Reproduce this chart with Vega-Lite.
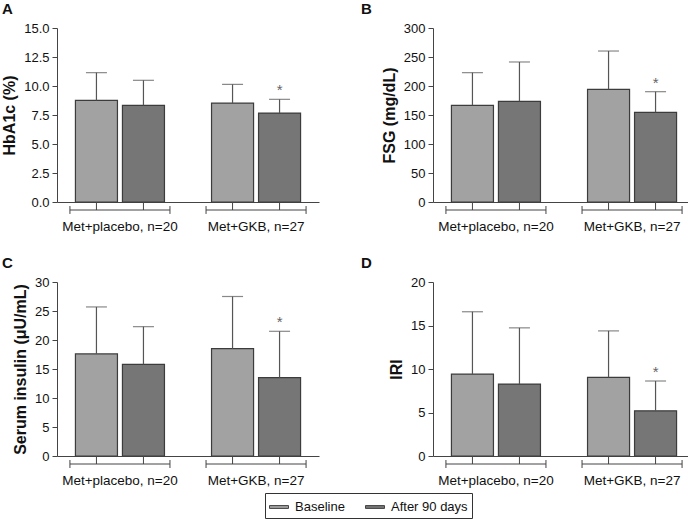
{
  "$schema": "https://vega.github.io/schema/vega-lite/v6.json",
  "background": "white",
  "padding": {"left": 1, "top": 2, "right": 0, "bottom": 0},
  "config": {
    "font": "Liberation Sans",
    "view": {"stroke": null},
    "axis": {"grid": false, "domainColor": "#444", "tickColor": "#444", "labelColor": "#111", "labelFontSize": 13, "titleColor": "#111", "labelOverlap": false},
    "axisY": {"tickSize": 5, "labelPadding": 3, "titleFontSize": 16, "titleFontWeight": "bold", "titlePadding": 6, "labelOverlap": false},
    "axisX": {"ticks": false, "labelPadding": 17, "labelAngle": 0, "title": null, "labelFontSize": 13.5},
    "title": {"fontSize": 15, "fontWeight": "bold", "color": "#111", "anchor": "start", "frame": "group", "baseline": "bottom", "offset": 5}
  },
  "data": {"values": [
    {"panel": "A", "group": "Met+placebo, n=20", "series": "Baseline", "mean": 8.76, "hi": 11.15, "star": ""},
    {"panel": "A", "group": "Met+placebo, n=20", "series": "After 90 days", "mean": 8.33, "hi": 10.49, "star": ""},
    {"panel": "A", "group": "Met+GKB, n=27", "series": "Baseline", "mean": 8.53, "hi": 10.14, "star": ""},
    {"panel": "A", "group": "Met+GKB, n=27", "series": "After 90 days", "mean": 7.67, "hi": 8.85, "star": "*"},
    {"panel": "B", "group": "Met+placebo, n=20", "series": "Baseline", "mean": 166.7, "hi": 223, "star": ""},
    {"panel": "B", "group": "Met+placebo, n=20", "series": "After 90 days", "mean": 173.6, "hi": 241.4, "star": ""},
    {"panel": "B", "group": "Met+GKB, n=27", "series": "Baseline", "mean": 194.3, "hi": 260.3, "star": ""},
    {"panel": "B", "group": "Met+GKB, n=27", "series": "After 90 days", "mean": 154.6, "hi": 190.2, "star": "*"},
    {"panel": "C", "group": "Met+placebo, n=20", "series": "Baseline", "mean": 17.6, "hi": 25.7, "star": ""},
    {"panel": "C", "group": "Met+placebo, n=20", "series": "After 90 days", "mean": 15.8, "hi": 22.3, "star": ""},
    {"panel": "C", "group": "Met+GKB, n=27", "series": "Baseline", "mean": 18.5, "hi": 27.5, "star": ""},
    {"panel": "C", "group": "Met+GKB, n=27", "series": "After 90 days", "mean": 13.5, "hi": 21.5, "star": "*"},
    {"panel": "D", "group": "Met+placebo, n=20", "series": "Baseline", "mean": 9.42, "hi": 16.58, "star": ""},
    {"panel": "D", "group": "Met+placebo, n=20", "series": "After 90 days", "mean": 8.27, "hi": 14.73, "star": ""},
    {"panel": "D", "group": "Met+GKB, n=27", "series": "Baseline", "mean": 9.04, "hi": 14.38, "star": ""},
    {"panel": "D", "group": "Met+GKB, n=27", "series": "After 90 days", "mean": 5.19, "hi": 8.62, "star": "*"}
  ]},
  "columns": 2,
  "spacing": {"row": 23, "column": 42},
  "concat": [
    {
      "width": 262, "height": 174,
      "title": {"text": "A", "dx": -55},
      "transform": [{"filter": "datum.panel === 'A'"}],
      "layer": [
        {"mark": {"type": "bar", "stroke": "#3c3c3c", "strokeWidth": 1.2},
         "encoding": {
           "x": {"field": "group", "type": "nominal", "scale": {"domain": ["Met+placebo, n=20", "Met+GKB, n=27"], "paddingInner": 0.265, "paddingOuter": 0.095}},
           "xOffset": {"field": "series", "type": "nominal", "scale": {"domain": ["Baseline", "After 90 days"], "paddingInner": 0.106, "paddingOuter": 0.117}},
           "y": {"field": "mean", "type": "quantitative", "scale": {"domain": [0, 15], "nice": false}, "axis": {"title": "HbA1c (%)", "values": [0, 2.5, 5, 7.5, 10, 12.5, 15], "format": ".1f", "labelOverlap": false, "tickCount": 7}},
           "fill": {"field": "series", "type": "nominal", "scale": {"domain": ["Baseline", "After 90 days"], "range": ["#a2a2a2", "#767676"]},
             "legend": {"title": null, "orient": "none", "legendX": 208, "legendY": 465, "direction": "horizontal", "strokeColor": "#333", "padding": 4, "symbolType": "M-1,-0.15H1V0.15H-1Z", "symbolSize": 361, "symbolStrokeColor": "#444", "symbolStrokeWidth": 1, "labelFontSize": 13, "labelOffset": 6, "columnPadding": 18, "labelColor": "#111"}}
         }},
        {"mark": {"type": "rule", "color": "#555", "strokeWidth": 1.2},
         "encoding": {"x": {"field": "group", "type": "nominal"}, "xOffset": {"field": "series", "type": "nominal"}, "y": {"field": "mean", "type": "quantitative"}, "y2": {"field": "hi"}}},
        {"mark": {"type": "tick", "color": "#555", "size": 21, "thickness": 1.2},
         "encoding": {"x": {"field": "group", "type": "nominal"}, "xOffset": {"field": "series", "type": "nominal"}, "y": {"field": "hi", "type": "quantitative"}}},
        {"mark": {"type": "text", "color": "#666", "dy": -9, "fontSize": 15},
         "encoding": {"x": {"field": "group", "type": "nominal"}, "xOffset": {"field": "series", "type": "nominal"}, "y": {"field": "hi", "type": "quantitative"}, "text": {"field": "star"}}},
        {"transform": [{"filter": "datum.series === 'Baseline'"}],
         "mark": {"type": "rule", "color": "#444", "strokeWidth": 1},
         "encoding": {"x": {"field": "group", "type": "nominal", "bandPosition": 0}, "x2": {"field": "group", "bandPosition": 1}, "y": {"datum": -0.69}}},
        {"transform": [{"filter": "datum.series === 'Baseline'"}],
         "mark": {"type": "rule", "color": "#444", "strokeWidth": 1},
         "encoding": {"x": {"field": "group", "type": "nominal", "bandPosition": 0}, "y": {"datum": -0.35}, "y2": {"datum": -1.03}}},
        {"transform": [{"filter": "datum.series === 'Baseline'"}],
         "mark": {"type": "rule", "color": "#444", "strokeWidth": 1},
         "encoding": {"x": {"field": "group", "type": "nominal", "bandPosition": 1}, "y": {"datum": -0.35}, "y2": {"datum": -1.03}}},
        {"mark": {"type": "rule", "color": "#444", "strokeWidth": 1},
         "encoding": {"x": {"field": "group", "type": "nominal"}, "xOffset": {"field": "series", "type": "nominal"}, "y": {"datum": 0}, "y2": {"datum": -0.69}}}
      ]
    },
    {
      "width": 262, "height": 174,
      "title": {"text": "B", "dx": -72},
      "transform": [{"filter": "datum.panel === 'B'"}],
      "layer": [
        {"mark": {"type": "bar", "stroke": "#3c3c3c", "strokeWidth": 1.2},
         "encoding": {
           "x": {"field": "group", "type": "nominal", "scale": {"domain": ["Met+placebo, n=20", "Met+GKB, n=27"], "paddingInner": 0.265, "paddingOuter": 0.095}},
           "xOffset": {"field": "series", "type": "nominal", "scale": {"domain": ["Baseline", "After 90 days"], "paddingInner": 0.106, "paddingOuter": 0.117}},
           "y": {"field": "mean", "type": "quantitative", "scale": {"domain": [0, 300], "nice": false}, "axis": {"title": "FSG (mg/dL)", "values": [0, 50, 100, 150, 200, 250, 300], "labelOverlap": false, "tickCount": 7}},
           "fill": {"field": "series", "type": "nominal", "scale": {"domain": ["Baseline", "After 90 days"], "range": ["#a2a2a2", "#767676"]},
             "legend": {"title": null, "orient": "none", "legendX": 208, "legendY": 465, "direction": "horizontal", "strokeColor": "#333", "padding": 4, "symbolType": "M-1,-0.15H1V0.15H-1Z", "symbolSize": 361, "symbolStrokeColor": "#444", "symbolStrokeWidth": 1, "labelFontSize": 13, "labelOffset": 6, "columnPadding": 18, "labelColor": "#111"}}
         }},
        {"mark": {"type": "rule", "color": "#555", "strokeWidth": 1.2},
         "encoding": {"x": {"field": "group", "type": "nominal"}, "xOffset": {"field": "series", "type": "nominal"}, "y": {"field": "mean", "type": "quantitative"}, "y2": {"field": "hi"}}},
        {"mark": {"type": "tick", "color": "#555", "size": 21, "thickness": 1.2},
         "encoding": {"x": {"field": "group", "type": "nominal"}, "xOffset": {"field": "series", "type": "nominal"}, "y": {"field": "hi", "type": "quantitative"}}},
        {"mark": {"type": "text", "color": "#666", "dy": -9, "fontSize": 15},
         "encoding": {"x": {"field": "group", "type": "nominal"}, "xOffset": {"field": "series", "type": "nominal"}, "y": {"field": "hi", "type": "quantitative"}, "text": {"field": "star"}}},
        {"transform": [{"filter": "datum.series === 'Baseline'"}],
         "mark": {"type": "rule", "color": "#444", "strokeWidth": 1},
         "encoding": {"x": {"field": "group", "type": "nominal", "bandPosition": 0}, "x2": {"field": "group", "bandPosition": 1}, "y": {"datum": -13.8}}},
        {"transform": [{"filter": "datum.series === 'Baseline'"}],
         "mark": {"type": "rule", "color": "#444", "strokeWidth": 1},
         "encoding": {"x": {"field": "group", "type": "nominal", "bandPosition": 0}, "y": {"datum": -6.9}, "y2": {"datum": -20.7}}},
        {"transform": [{"filter": "datum.series === 'Baseline'"}],
         "mark": {"type": "rule", "color": "#444", "strokeWidth": 1},
         "encoding": {"x": {"field": "group", "type": "nominal", "bandPosition": 1}, "y": {"datum": -6.9}, "y2": {"datum": -20.7}}},
        {"mark": {"type": "rule", "color": "#444", "strokeWidth": 1},
         "encoding": {"x": {"field": "group", "type": "nominal"}, "xOffset": {"field": "series", "type": "nominal"}, "y": {"datum": 0}, "y2": {"datum": -13.8}}}
      ]
    },
    {
      "width": 262, "height": 174,
      "title": {"text": "C", "dx": -55},
      "transform": [{"filter": "datum.panel === 'C'"}],
      "layer": [
        {"mark": {"type": "bar", "stroke": "#3c3c3c", "strokeWidth": 1.2},
         "encoding": {
           "x": {"field": "group", "type": "nominal", "scale": {"domain": ["Met+placebo, n=20", "Met+GKB, n=27"], "paddingInner": 0.265, "paddingOuter": 0.095}},
           "xOffset": {"field": "series", "type": "nominal", "scale": {"domain": ["Baseline", "After 90 days"], "paddingInner": 0.106, "paddingOuter": 0.117}},
           "y": {"field": "mean", "type": "quantitative", "scale": {"domain": [0, 30], "nice": false}, "axis": {"title": "Serum insulin (μU/mL)", "values": [0, 5, 10, 15, 20, 25, 30], "labelOverlap": false, "tickCount": 7}},
           "fill": {"field": "series", "type": "nominal", "scale": {"domain": ["Baseline", "After 90 days"], "range": ["#a2a2a2", "#767676"]},
             "legend": {"title": null, "orient": "none", "legendX": 208, "legendY": 465, "direction": "horizontal", "strokeColor": "#333", "padding": 4, "symbolType": "M-1,-0.15H1V0.15H-1Z", "symbolSize": 361, "symbolStrokeColor": "#444", "symbolStrokeWidth": 1, "labelFontSize": 13, "labelOffset": 6, "columnPadding": 18, "labelColor": "#111"}}
         }},
        {"mark": {"type": "rule", "color": "#555", "strokeWidth": 1.2},
         "encoding": {"x": {"field": "group", "type": "nominal"}, "xOffset": {"field": "series", "type": "nominal"}, "y": {"field": "mean", "type": "quantitative"}, "y2": {"field": "hi"}}},
        {"mark": {"type": "tick", "color": "#555", "size": 21, "thickness": 1.2},
         "encoding": {"x": {"field": "group", "type": "nominal"}, "xOffset": {"field": "series", "type": "nominal"}, "y": {"field": "hi", "type": "quantitative"}}},
        {"mark": {"type": "text", "color": "#666", "dy": -9, "fontSize": 15},
         "encoding": {"x": {"field": "group", "type": "nominal"}, "xOffset": {"field": "series", "type": "nominal"}, "y": {"field": "hi", "type": "quantitative"}, "text": {"field": "star"}}},
        {"transform": [{"filter": "datum.series === 'Baseline'"}],
         "mark": {"type": "rule", "color": "#444", "strokeWidth": 1},
         "encoding": {"x": {"field": "group", "type": "nominal", "bandPosition": 0}, "x2": {"field": "group", "bandPosition": 1}, "y": {"datum": -1.38}}},
        {"transform": [{"filter": "datum.series === 'Baseline'"}],
         "mark": {"type": "rule", "color": "#444", "strokeWidth": 1},
         "encoding": {"x": {"field": "group", "type": "nominal", "bandPosition": 0}, "y": {"datum": -0.69}, "y2": {"datum": -2.07}}},
        {"transform": [{"filter": "datum.series === 'Baseline'"}],
         "mark": {"type": "rule", "color": "#444", "strokeWidth": 1},
         "encoding": {"x": {"field": "group", "type": "nominal", "bandPosition": 1}, "y": {"datum": -0.69}, "y2": {"datum": -2.07}}},
        {"mark": {"type": "rule", "color": "#444", "strokeWidth": 1},
         "encoding": {"x": {"field": "group", "type": "nominal"}, "xOffset": {"field": "series", "type": "nominal"}, "y": {"datum": 0}, "y2": {"datum": -1.38}}}
      ]
    },
    {
      "width": 262, "height": 174,
      "title": {"text": "D", "dx": -72},
      "transform": [{"filter": "datum.panel === 'D'"}],
      "layer": [
        {"mark": {"type": "bar", "stroke": "#3c3c3c", "strokeWidth": 1.2},
         "encoding": {
           "x": {"field": "group", "type": "nominal", "scale": {"domain": ["Met+placebo, n=20", "Met+GKB, n=27"], "paddingInner": 0.265, "paddingOuter": 0.095}},
           "xOffset": {"field": "series", "type": "nominal", "scale": {"domain": ["Baseline", "After 90 days"], "paddingInner": 0.106, "paddingOuter": 0.117}},
           "y": {"field": "mean", "type": "quantitative", "scale": {"domain": [0, 20], "nice": false}, "axis": {"title": "IRI", "values": [0, 5, 10, 15, 20], "labelOverlap": false, "tickCount": 5}},
           "fill": {"field": "series", "type": "nominal", "scale": {"domain": ["Baseline", "After 90 days"], "range": ["#a2a2a2", "#767676"]},
             "legend": {"title": null, "orient": "none", "legendX": 208, "legendY": 465, "direction": "horizontal", "strokeColor": "#333", "padding": 4, "symbolType": "M-1,-0.15H1V0.15H-1Z", "symbolSize": 361, "symbolStrokeColor": "#444", "symbolStrokeWidth": 1, "labelFontSize": 13, "labelOffset": 6, "columnPadding": 18, "labelColor": "#111"}}
         }},
        {"mark": {"type": "rule", "color": "#555", "strokeWidth": 1.2},
         "encoding": {"x": {"field": "group", "type": "nominal"}, "xOffset": {"field": "series", "type": "nominal"}, "y": {"field": "mean", "type": "quantitative"}, "y2": {"field": "hi"}}},
        {"mark": {"type": "tick", "color": "#555", "size": 21, "thickness": 1.2},
         "encoding": {"x": {"field": "group", "type": "nominal"}, "xOffset": {"field": "series", "type": "nominal"}, "y": {"field": "hi", "type": "quantitative"}}},
        {"mark": {"type": "text", "color": "#666", "dy": -9, "fontSize": 15},
         "encoding": {"x": {"field": "group", "type": "nominal"}, "xOffset": {"field": "series", "type": "nominal"}, "y": {"field": "hi", "type": "quantitative"}, "text": {"field": "star"}}},
        {"transform": [{"filter": "datum.series === 'Baseline'"}],
         "mark": {"type": "rule", "color": "#444", "strokeWidth": 1},
         "encoding": {"x": {"field": "group", "type": "nominal", "bandPosition": 0}, "x2": {"field": "group", "bandPosition": 1}, "y": {"datum": -0.92}}},
        {"transform": [{"filter": "datum.series === 'Baseline'"}],
         "mark": {"type": "rule", "color": "#444", "strokeWidth": 1},
         "encoding": {"x": {"field": "group", "type": "nominal", "bandPosition": 0}, "y": {"datum": -0.46}, "y2": {"datum": -1.38}}},
        {"transform": [{"filter": "datum.series === 'Baseline'"}],
         "mark": {"type": "rule", "color": "#444", "strokeWidth": 1},
         "encoding": {"x": {"field": "group", "type": "nominal", "bandPosition": 1}, "y": {"datum": -0.46}, "y2": {"datum": -1.38}}},
        {"mark": {"type": "rule", "color": "#444", "strokeWidth": 1},
         "encoding": {"x": {"field": "group", "type": "nominal"}, "xOffset": {"field": "series", "type": "nominal"}, "y": {"datum": 0}, "y2": {"datum": -0.92}}}
      ]
    }
  ],
  "resolve": {"scale": {"y": "independent"}, "axis": {"y": "independent"}}
}
